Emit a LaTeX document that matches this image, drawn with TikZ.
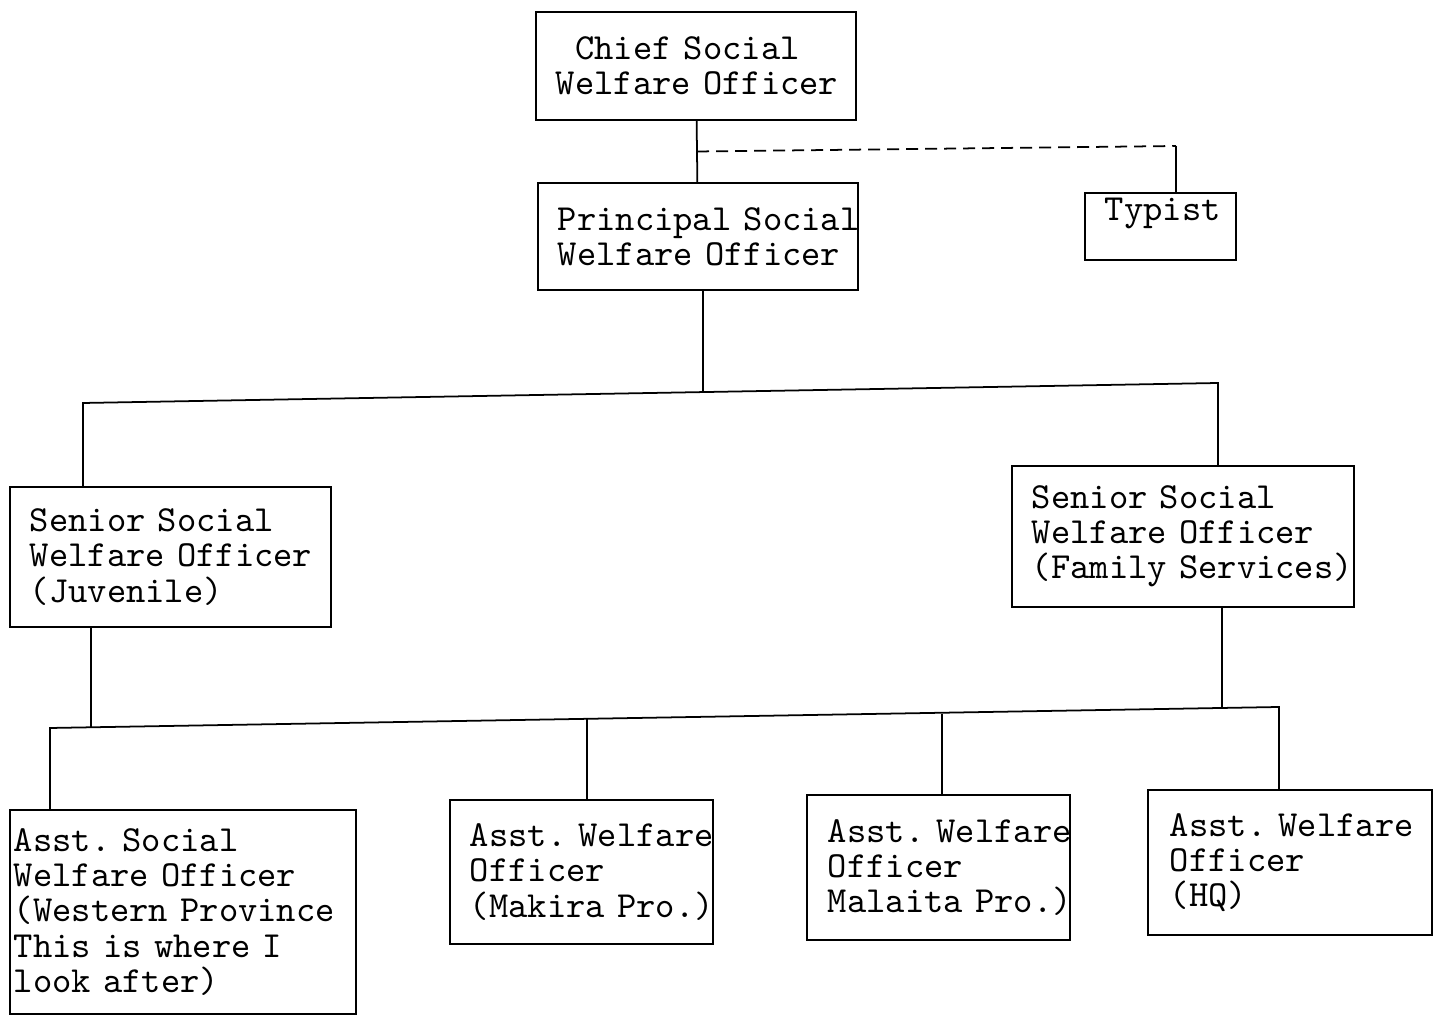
\documentclass[tikz,border=0pt]{standalone}
\usetikzlibrary{calc}

\newcommand{\typewr}{\fontsize{10.45}{10}\selectfont\ttfamily}

\begin{document}
\begin{tikzpicture}[x=0.01cm,y=-0.01cm,
  post/.style={draw,line width=0.6pt,align=left,font=\typewr,
    inner xsep=0.2cm,inner ysep=0pt},
  link/.style={line width=0.5pt}]

\useasboundingbox (0,0) rectangle (1435,1016);

\begin{scope} % head office
  \node (chief) at (696,66)
    [post,minimum width=3.20cm,text width=2.80cm,minimum height=1.08cm]
    {\phantom{x}Chief~Social\\Welfare~Officer};
  \node (principal) at (698,236.5)
    [post,minimum width=3.20cm,text width=2.80cm,minimum height=1.07cm]
    {Principal~Social\\Welfare~Officer};
  \node (typist) at (1160.5,226.5)
    [post,minimum width=1.51cm,text width=1.11cm,minimum height=0.67cm]
    {Typist\\\mbox{}};
\end{scope}

\begin{scope} % seniors
  \node (juvenile) at (170.5,557)
    [post,minimum width=3.21cm,text width=2.81cm,minimum height=1.40cm]
    {Senior~Social\\Welfare~Officer\\(Juvenile)};
  \node (family) at (1183,536.5)
    [post,minimum width=3.42cm,text width=3.02cm,minimum height=1.41cm]
    {Senior~Social\\Welfare~Officer\\(Family~Services)};
\end{scope}

\begin{scope} % assistants
  \node (western) at (183,912)
    [post,inner xsep=0.04cm,minimum width=3.46cm,text width=3.38cm,
     minimum height=2.04cm]
    {Asst.~Social\\Welfare~Officer\\(Western~Province\\This~is~where~I\\look~after)};
  \node (makira) at (581.5,872)
    [post,minimum width=2.63cm,text width=2.23cm,minimum height=1.44cm]
    {Asst.~Welfare\\Officer\\(Makira~Pro.)};
  \node (malaita) at (938.5,867.5)
    [post,inner xsep=0.21cm,minimum width=2.63cm,text width=2.21cm,
     minimum height=1.45cm]
    {Asst.~Welfare\\Officer\\Malaita~Pro.)};
  \node (hq) at (1290,862.5)
    [post,inner xsep=0.22cm,minimum width=2.84cm,text width=2.40cm,
     minimum height=1.45cm]
    {Asst.~Welfare\\Officer\\(HQ)};
\end{scope}

% junctions on the two bus lines
\coordinate (tap) at ($(chief.south)!0.5!(principal.north)$);
\coordinate (typist bend) at (1176,146);
\coordinate (upM) at (703,391);
\coordinate (upL) at (83,403);
\coordinate (upR) at (1218,383);
\coordinate (lowW) at (50,728);
\coordinate (lowJ) at (91,727);
\coordinate (lowMk) at (587,719);
\coordinate (lowMl) at (942,714);
\coordinate (lowF) at (1222,708);
\coordinate (lowH) at (1279,707);

\begin{scope}[link] % lines of command
  \draw (chief) -- (principal);
  \draw[dash pattern=on 0.12cm off 0.07cm] (tap) -- (typist bend);
  \draw (typist bend) -- (typist bend |- typist.north);

  \draw (upM |- principal.south) -- (upM);
  \draw (upL |- juvenile.north) -- (upL) -- (upR) -- (upR |- family.north);

  \draw (lowJ |- juvenile.south) -- (lowJ);
  \draw (lowF |- family.south) -- (lowF);
  \draw (lowW |- western.north) -- (lowW) -- (lowH) -- (lowH |- hq.north);
  \draw (lowMk) -- (lowMk |- makira.north);
  \draw (lowMl) -- (lowMl |- malaita.north);
\end{scope}

\end{tikzpicture}
\end{document}
